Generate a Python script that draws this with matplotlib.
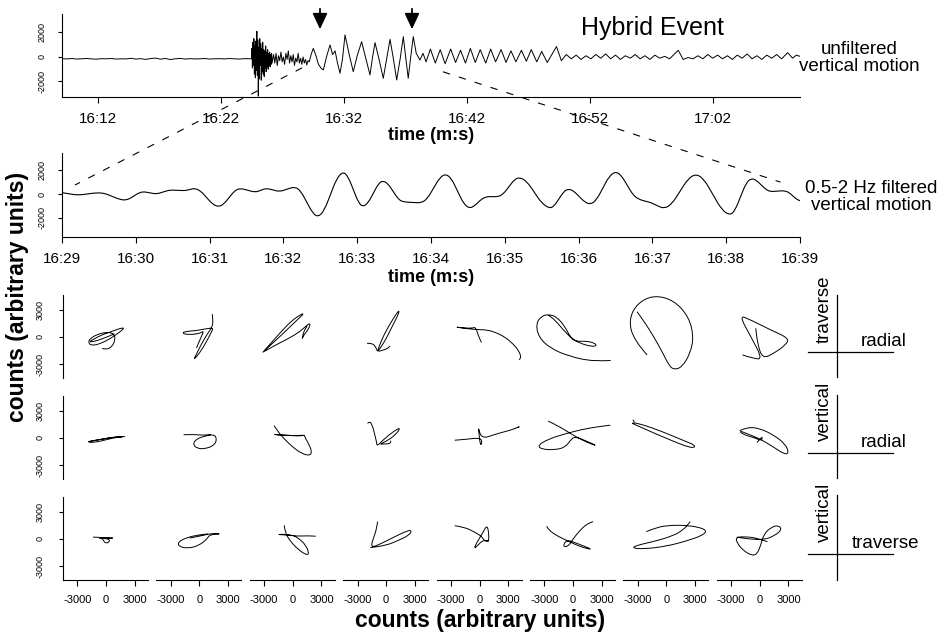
import matplotlib
matplotlib.use("Agg")
import matplotlib.pyplot as plt
from matplotlib.patches import ConnectionPatch, FancyArrowPatch, PathPatch
from matplotlib.path import Path
from matplotlib.lines import Line2D

plt.rcParams['font.family'] = ['Liberation Sans', 'DejaVu Sans']

# ---------------- data ----------------
# unfiltered vertical motion, time in seconds after 16:00
top_t = [9.1, 9.5, 9.9, 10.3, 10.7, 11.1, 11.5, 11.9, 12.3, 12.7, 13.1, 13.5, 13.9, 14.3, 14.7,
         15.1, 15.5, 15.9, 16.3, 16.7, 17.1, 17.5, 17.9, 18.3, 18.7, 19.1, 19.5, 19.9, 20.3, 20.7,
         21.1, 21.5, 21.9, 22.3, 22.7, 23.1, 23.5, 23.9, 24.3,
         24.50, 24.54, 24.58, 24.62, 24.66, 24.70, 24.74, 24.78, 24.82, 24.86, 24.90, 24.94, 24.98,
         25.02, 25.06, 25.10, 25.14, 25.18, 25.22, 25.26, 25.30, 25.34, 25.38, 25.42, 25.46, 25.50,
         25.54, 25.58, 25.62, 25.66, 25.70, 25.74, 25.78, 25.82, 25.86, 25.90, 25.94, 25.98, 26.02,
         26.06, 26.10, 26.14, 26.18,
         26.3, 26.4, 26.5, 26.6, 26.7, 26.8, 26.9, 27.0, 27.1, 27.2, 27.3, 27.4, 27.5, 27.6, 27.7,
         27.8, 27.9, 28.0, 28.1, 28.2, 28.3, 28.4, 28.5, 28.6, 28.7, 28.8, 28.9, 29.0, 29.1,
         29.2, 29.35, 29.53, 29.75, 29.95, 30.15, 30.35, 30.6, 30.89, 31.1, 31.3, 31.5, 31.7, 31.9,
         32.11, 32.45, 32.78, 33.1, 33.46, 33.8, 34.14, 34.35, 34.55, 34.9, 35.22, 35.5, 35.77,
         36.05, 36.31, 36.6, 36.85, 37.05, 37.25, 37.45, 37.66, 37.9, 38.2,
         38.45, 38.7, 39.05, 39.45, 39.85, 40.25, 40.7, 41.1, 41.5, 41.9, 42.3, 42.7, 43.1, 43.55,
         43.95, 44.35, 44.8, 45.2, 45.6, 46.0, 46.45, 46.85, 47.25, 47.7, 48.1, 48.55, 49.3, 49.7,
         50.1, 50.5, 50.9, 51.3, 51.7, 52.1, 52.5, 52.9, 53.3, 53.7, 54.1, 54.5, 54.9, 55.3, 55.7,
         56.1, 56.5, 56.9, 57.3, 57.7, 58.1, 58.5, 59.2, 59.6, 60.0, 60.4, 60.8, 61.2, 61.6, 62.0,
         62.4, 62.8, 63.2, 63.6, 64.0, 64.4, 64.8, 65.2, 65.6, 66.0, 66.4, 66.8, 67.2, 67.6, 68.1,
         68.5, 68.8, 69.1]
top_v = [-140, -160, -130, -170, -150, -120, -160, -180, -140, -150, -130, -170, -150, -160, -110,
         -170, -140, -200, -130, -90, -180, -120, -210, -150, -120, -170, -140, -160, -150, -130,
         -170, -150, -140, -160, -130, -150, -170, -140, -150,
         -150, 700, -900, 1200, -700, 1500, -1400, 900, -1700, 1300, -1100, 2100, -1500,
         1400, -3200, 800, -1800, 1500, -700, 1100, -1900, 700, -1200, 1200, -1400, 600,
         -1600, 500, -900, 900, -1200, 400, -800, 600, -1000, 300, -700, 400, -800,
         200, -600, 300, -500,
         200, -500, 300, -700, 100, -300, 400, -400, 0, -600, 300, -200, 500, -500, 100,
         -400, 200, -700, -100, -400, 300, -500, -100, -600, 0, -500, -200, -650, -300,
         -400, 200, 700, 100, -600, -900, -1060, 0, 980, 200, 500, -500, -1330, -200,
         1800, 200, -1200, 100, 1250, -100, -1470, 0, 1170, -300, -1740, -100, 1440,
         -200, -1880, -100, 1660, -100, -1740, 0, 1660, 300, -250,
         300, -400, 650, -500, 600, -550, 650, -450, 550, -500, 700, -450, 600, -500,
         650, -400, 600, -450, 500, -400, 550, -350, 600, -400, 450, -450, 850, -300,
         200, -150, 150, -200, 100, -150, 200, -100, 250, -150, 150, -200, 100, -100, 200,
         -150, 100, -200, 150, -100, 50, -150, 550, -200, -50, -150, 100, -150, 200, -100,
         150, -150, 100, -200, 150, -100, 250, -150, 100, -200, 150, -100, 200, -150, 350,
         -100, 150, 50]

# 0.5-2 Hz filtered vertical motion, time in seconds after 16:00
filt_t = [29.00, 29.10, 29.20, 29.30, 29.40, 29.51, 29.60, 29.70, 29.80, 29.85, 29.92, 30.00,
          30.05, 30.10, 30.19, 30.28, 30.37, 30.46, 30.56, 30.67, 30.74, 30.80, 30.88, 30.96,
          31.04, 31.12, 31.19, 31.27, 31.34, 31.41, 31.51, 31.62, 31.70, 31.77, 31.86, 31.95,
          32.05, 32.16, 32.24, 32.32, 32.40, 32.47, 32.55, 32.64, 32.72, 32.81, 32.88, 32.95,
          33.02, 33.08, 33.15, 33.22, 33.29, 33.35, 33.42, 33.49, 33.56, 33.62, 33.70, 33.78,
          33.87, 33.95, 34.04, 34.12, 34.20, 34.28, 34.36, 34.44, 34.52, 34.60, 34.68, 34.75,
          34.83, 34.91, 34.98, 35.06, 35.13, 35.20, 35.30, 35.40, 35.50, 35.61, 35.67, 35.73,
          35.80, 35.86, 35.93, 36.01, 36.08, 36.16, 36.24, 36.33, 36.41, 36.50, 36.58, 36.66,
          36.74, 36.82, 36.90, 36.98, 37.07, 37.16, 37.26, 37.37, 37.48, 37.59, 37.70, 37.82,
          37.94, 38.05, 38.12, 38.20, 38.27, 38.34, 38.41, 38.48, 38.55, 38.61, 38.70, 38.80,
          38.87, 38.94, 39.00]
filt_v = [113, 14, -85, -39, 58, 113, 13, -258, -477, -510, -400, -45,
          100, 200, 100, 0, 170, 340, 310, 280, 390, 480, 252, -300,
          -852, -1080, -862, -253, 277, 480, 330, 140, 330, 480, 340, 200,
          410, 620, 212, -732, -1624, -1930, -1432, -15, 1287, 1900, 1423, 321,
          -752, -1080, -726, 91, 887, 1130, 845, 187, -454, -650, -690, -720,
          -740, -398, 553, 1383, 1700, 1274, 240, -794, -1220, -953, -438, -230,
          -215, -230, 1, 645, 1206, 1420, 1050, 150, -771, -1220, -989, -444,
          216, 430, 273, -225, -657, -880, -519, 510, 1455, 1900, 1557, 725,
          -107, -450, -600, -710, -1000, -1220, -870, 182, 1262, 1700, 1246, -45,
          -1336, -1790, -1384, -136, 924, 1330, 1149, 731, 324, 200, 250, 280,
          50, -390, -570]

top_xticks = [12, 22, 32, 42, 52, 62]
top_xlabels = ["16:12", "16:22", "16:32", "16:42", "16:52", "17:02"]
filt_xticks = [29, 30, 31, 32, 33, 34, 35, 36, 37, 38, 39]
filt_xlabels = ["16:29", "16:30", "16:31", "16:32", "16:33", "16:34",
                "16:35", "16:36", "16:37", "16:38", "16:39"]
trace_yticks = [-2000, 0, 2000]
trace_ylabels = ["-2000", "0", "2000"]
hodo_ticks = [-3000, 0, 3000]
hodo_labels = ["-3000", "0", "3000"]

# particle motion (hodograms), one point list per 1-s window
hodo_traverse_radial = [
    [(-400, -1250), (0, -1400), (600, -1100), (950, -400), (900, 300), (200, 550), (-900, 300),
     (-1700, -200), (-1850, -650), (-1500, -950), (-600, -750), (500, -150), (1400, 500),
     (1950, 1000), (1500, 950), (600, 600), (-400, 250), (-1300, -250), (-1800, -550),
     (-1200, -500), (0, -50), (900, 350)],
    [(1350, 2500), (1450, 1700), (1300, 1000), (800, 300), (100, -1000), (-500, -2300),
     (-550, -2450), (0, -1800), (700, -600), (1300, 600), (1450, 1000), (700, 900), (-300, 700),
     (-1500, 600), (-1800, 400), (-1200, 250), (0, 350), (500, 700), (100, -200), (-300, -1200)],
    [(-3150, -1700), (-2300, -700), (-1200, 600), (-100, 1800), (900, 2500), (1150, 2550),
     (700, 2100), (-400, 1000), (-1600, -200), (-2700, -1250), (-3150, -1700), (-2000, -1000),
     (-700, -300), (500, 400), (1300, 1100), (1850, 1600), (1700, 900), (1000, 0), (1000, -300),
     (1100, 500), (1500, 1200)],
    [(-2000, -700), (-1400, -650), (-1000, -1300), (-900, -1650), (-700, -900), (-200, 300),
     (500, 1600), (1100, 2600), (1400, 2950), (1200, 2300), (600, 1100), (0, -200),
     (-600, -1200), (-900, -1600), (-500, -1500), (100, -1300), (400, -1000)],
    [(200, -600), (-100, 0), (-400, 1100), (-800, 950), (-1800, 1000), (-2600, 1100),
     (-1600, 950), (-300, 800), (800, 780), (1800, 450), (2700, -50), (3500, -750),
     (4100, -1500), (4350, -2200), (4150, -2500)],
    [(3940, -2580), (2130, -2690), (-310, -2150), (-2410, -1240), (-3630, 40), (-3870, 1490),
     (-3280, 2290), (-2580, 2480), (-1710, 2220), (-840, 1130), (-310, 40), (210, -510),
     (1430, -440), (2300, -690), (2480, -950), (1950, -1060), (730, -690), (-140, -150),
     (-1010, 760), (-1880, 1860), (-2580, 2400)],
    [(-2020, -1970), (-3420, -330), (-3940, 1860), (-3070, 3680), (-1330, 4590), (770, 4040),
     (2340, 2220), (2860, 40), (2510, -1780), (1640, -3310), (770, -3600), (240, -3060),
     (-450, -1600), (-1330, 40), (-2200, 1490), (-3070, 2770)],
    [(-1810, -1970), (-590, -2400), (280, -2400), (-940, 40), (-2160, 2400), (-940, 1860),
     (1150, 760), (3070, -150), (2720, -870), (1500, -1780), (280, -2400), (-240, -690),
     (-420, 950)],
]
hodo_vertical_radial = [
    [(-1850, -400), (-1000, -250), (0, -50), (1000, 100), (2000, 150), (1000, 50), (0, -200),
     (-1000, -450), (-1850, -500), (-1700, -350), (-500, -150), (800, 100), (2000, 150)],
    [(-1650, 350), (-1000, 380), (-200, 350), (400, 300), (1300, 380), (1800, 150), (1700, -700),
     (700, -1200), (-300, -1150), (-700, -600), (-200, -50), (600, 200), (1200, 350)],
    [(-1950, 1350), (-1500, 600), (-800, -200), (0, -1000), (900, -1700), (1800, -1950),
     (2000, -1500), (1700, -700), (1200, 200), (1300, 300), (500, 200), (-500, 300),
     (-1500, 300), (-2100, 420), (-1200, 330), (0, 250), (1100, 300)],
    [(-1950, 1600), (-1750, 1850), (-1450, 1400), (-1200, 400), (-1000, -500), (-950, -900),
     (-300, -200), (500, 500), (1200, 1000), (1450, 1050), (1100, 500), (300, -200),
     (-700, -700), (-300, -650), (400, -650), (500, -300)],
    [(-2600, -250), (-1200, -130), (-200, 0), (300, -200), (80, -1050), (-150, 1450), (0, 400),
     (500, 0), (1200, 250), (2300, 600), (3400, 900), (4300, 1300), (4000, 1150)],
    [(-2600, 1850), (-1500, 1300), (-300, 500), (900, -200), (2000, -700), (2500, -850),
     (1500, -400), (200, 200), (-300, -300), (-800, -1000), (-1800, -1300), (-3300, -1250),
     (-3700, -800), (-2500, -100), (-1000, 400), (800, 900), (2400, 1200), (3900, 1400)],
    [(-3500, 2000), (-3200, 1500), (-3800, 1700), (-2500, 1100), (-1000, 400), (600, -300),
     (2000, -900), (2900, -1100), (3000, -800), (2200, -450), (700, 200), (-700, 800),
     (-2300, 1400), (-3300, 1650)],
    [(-2100, 800), (-1300, 1200), (0, 1050), (1500, 300), (2700, -700), (3050, -1650),
     (2600, -1800), (1300, -900), (0, -100), (-1400, 500), (-2150, 800), (-1800, 400),
     (-500, 0), (200, -300), (300, 200), (-300, -500)],
]
hodo_vertical_traverse = [
    [(-1350, 200), (-700, 180), (0, 120), (900, 100), (300, 80), (-500, 150), (-300, -100),
     (-100, -450), (300, -400), (400, -50), (-100, 50), (-700, 50)],
    [(-1000, 100), (0, 300), (800, 500), (1400, 600), (2400, 550), (1100, 500), (800, 0),
     (0, -700), (-1200, -1050), (-2200, -800), (-2200, -300), (-1200, 200), (0, 450), (900, 550)],
    [(-900, 1500), (-800, 700), (-300, -200), (600, -1200), (1500, -1800), (1700, -1500),
     (1300, -600), (700, 0), (-100, 500), (-1800, 500), (-800, 450), (500, 300), (1500, 350),
     (2400, 300)],
    [(-900, 1900), (-1000, 1100), (-1300, 200), (-1650, -1000), (-500, -500), (800, 200),
     (2200, 900), (2700, 950), (2400, 400), (1200, -200), (0, -700), (-1650, -950)],
    [(-2600, 1450), (-1600, 1300), (-600, 800), (200, 300), (500, -200), (900, -300),
     (1000, 300), (800, 1600), (300, 600), (-300, -400), (-600, -1100), (-200, -700),
     (400, -100), (1000, -250)],
    [(-2750, 1400), (-2600, 1000), (-1600, 300), (-400, -300), (900, -900), (2100, -1200),
     (1200, -800), (200, -400), (-600, -100), (-1000, -600), (-900, -900), (-400, -700),
     (0, 0), (700, 900), (1400, 1600), (2100, 1900)],
    [(-2100, 800), (-1000, 1300), (500, 1500), (1900, 1500), (3400, 1300), (4250, 900),
     (3800, 400), (2200, -200), (0, -800), (-2300, -1100), (-3600, -1000), (-3100, -700),
     (-1400, -300), (600, 300), (1800, 1000), (2500, 1900)],
    [(800, -300), (-300, 100), (-1500, 250), (-2500, 200), (-2400, -400), (-1800, -1200),
     (-900, -1800), (-300, -1700), (100, -700), (400, 500), (1200, 1300), (2000, 1500),
     (2300, 1000), (1600, 400), (500, -100), (-1200, 0), (-2400, 200)],
]
hodo_rows = [hodo_traverse_radial, hodo_vertical_radial, hodo_vertical_traverse]
hodo_axis_names = [("traverse", "radial"), ("vertical", "radial"), ("vertical", "traverse")]

# ---------------- layout helpers ----------------
W, H = 943, 636
fig = plt.figure(figsize=(W / 100, H / 100), dpi=100)
fig.patch.set_facecolor("white")


def box(left, top, right, bottom):
    return [left / W, 1 - bottom / H, (right - left) / W, (bottom - top) / H]


def fx(px):
    return px / W


def fy(py):
    return 1 - py / H


def curve_path(pts):
    """Quadratic-Bezier path whose control points are the read points (rendered by matplotlib)."""
    verts = [pts[0]]
    codes = [Path.MOVETO]
    for i in range(1, len(pts) - 1):
        nxt = pts[i + 1]
        verts += [pts[i], ((pts[i][0] + nxt[0]) / 2, (pts[i][1] + nxt[1]) / 2)]
        codes += [Path.CURVE3, Path.CURVE3]
    verts.append(pts[-1])
    codes.append(Path.LINETO)
    return Path(verts, codes)


def style_trace(ax, xticks, xlabels, xlim, ylim):
    ax.set_xlim(*xlim)
    ax.set_ylim(*ylim)
    ax.patch.set_visible(False)
    for s in ("top", "right"):
        ax.spines[s].set_visible(False)
    for s in ("left", "bottom"):
        ax.spines[s].set_linewidth(0.8)
    ax.set_xticks(xticks)
    ax.set_xticklabels(xlabels, fontsize=11)
    ax.set_yticks(trace_yticks)
    ax.set_yticklabels(trace_ylabels, fontsize=6.5, rotation=90, va="center")
    ax.tick_params(axis="x", direction="out", length=4, width=0.8, pad=7)
    ax.tick_params(axis="y", direction="out", length=3, width=0.8, pad=8)


# ---------------- top: unfiltered ----------------
ax_top = fig.add_axes(box(62, 14, 800, 97))
ax_top.plot(top_t, top_v, color="black", lw=0.7)
style_trace(ax_top, top_xticks, top_xlabels, (9.1, 69.1), (-3270, 3510))
fig.text(fx(431), fy(136), "time (m:s)", fontsize=13, fontweight="bold", ha="center", va="center")
fig.text(fx(652), fy(28), "Hybrid Event", fontsize=18, ha="center", va="center")
fig.text(fx(859), fy(58), "unfiltered\nvertical motion", fontsize=13.5, ha="center",
         va="center", linespacing=1.05)

for ax_px in (320, 412):
    arr = FancyArrowPatch((fx(ax_px), fy(6)), (fx(ax_px), fy(32)), transform=fig.transFigure,
                          arrowstyle="-|>,head_length=0.6,head_width=0.28", mutation_scale=16,
                          color="black", lw=1.3)
    fig.add_artist(arr)

# ---------------- middle: filtered ----------------
ax_f = fig.add_axes(box(62, 153, 800, 237))
ax_f.add_patch(PathPatch(curve_path(list(zip(filt_t, filt_v))), facecolor="none",
                         edgecolor="black", lw=0.8))
style_trace(ax_f, filt_xticks, filt_xlabels, (29, 39), (-3610, 3445))
fig.text(fx(431), fy(278), "time (m:s)", fontsize=13, fontweight="bold", ha="center", va="center")
fig.text(fx(871), fy(197), "0.5-2 Hz filtered\nvertical motion", fontsize=13.5, ha="center",
         va="center", linespacing=1.05)

# dashed zoom links between the two traces
zoom_link_top = [(28.6, -900), (40.1, -1220)]
zoom_link_filt = [(29.18, 770), (38.73, 1010)]
for a, b in zip(zoom_link_top, zoom_link_filt):
    cp = ConnectionPatch(xyA=a, coordsA=ax_top.transData, xyB=b, coordsB=ax_f.transData,
                         linestyle=(0, (6, 9)), lw=0.8, color="black")
    fig.add_artist(cp)

# ---------------- hodograms ----------------
row_tops = [295, 396, 497]
for r, shapes in enumerate(hodo_rows):
    for c, pts in enumerate(shapes):
        left = 63 + c * 93.4
        ax = fig.add_axes(box(left, row_tops[r], left + 85, row_tops[r] + 83))
        patch = PathPatch(curve_path(pts), facecolor="none", edgecolor="black", lw=0.7,
                          clip_on=False)
        ax.add_patch(patch)
        ax.set_xlim(-4500, 4400)
        ax.set_ylim(-4500, 4600)
        ax.patch.set_visible(False)
        for s in ("top", "right"):
            ax.spines[s].set_visible(False)
        ax.spines["left"].set_visible(c == 0)
        ax.spines["bottom"].set_visible(r == 2)
        ax.spines["left"].set_linewidth(0.8)
        ax.spines["bottom"].set_linewidth(0.8)
        ax.set_xticks(hodo_ticks)
        ax.set_xticklabels(hodo_labels, fontsize=8)
        ax.set_yticks(hodo_ticks)
        ax.set_yticklabels(hodo_labels, fontsize=6.5, rotation=90, va="center")
        ax.tick_params(axis="x", direction="out", length=4, width=0.8, pad=7,
                       bottom=(r == 2), labelbottom=(r == 2))
        ax.tick_params(axis="y", direction="out", length=3, width=0.8, pad=10,
                       left=(c == 0), labelleft=(c == 0))

fig.text(fx(480), fy(621), "counts (arbitrary units)", fontsize=16.5, fontweight="bold",
         ha="center", va="center")
fig.text(fx(18), fy(297), "counts (arbitrary units)", fontsize=16.5, fontweight="bold",
         ha="center", va="center", rotation=90)

# component key at right of each hodogram row
key_hline_y = [352, 453, 554]
key_vline = [(295, 377), (395, 478), (495, 580)]
key_vlabel_y = [309, 411, 512]
for r, (vname, hname) in enumerate(hodo_axis_names):
    y0, y1 = key_vline[r]
    fig.add_artist(Line2D([fx(837), fx(837)], [fy(y0), fy(y1)], transform=fig.transFigure,
                          color="black", lw=0.9))
    hy = key_hline_y[r]
    fig.add_artist(Line2D([fx(808), fx(893)], [fy(hy), fy(hy)], transform=fig.transFigure,
                          color="black", lw=0.9))
    fig.text(fx(824), fy(key_vlabel_y[r]), vname, fontsize=13.5, rotation=90,
             ha="center", va="center")
    fig.text(fx(885 if hname == "traverse" else 884), fy(hy - 2), hname, fontsize=13.5,
             ha="center", va="bottom")

fig.savefig("out.png", dpi=100, facecolor="white")
